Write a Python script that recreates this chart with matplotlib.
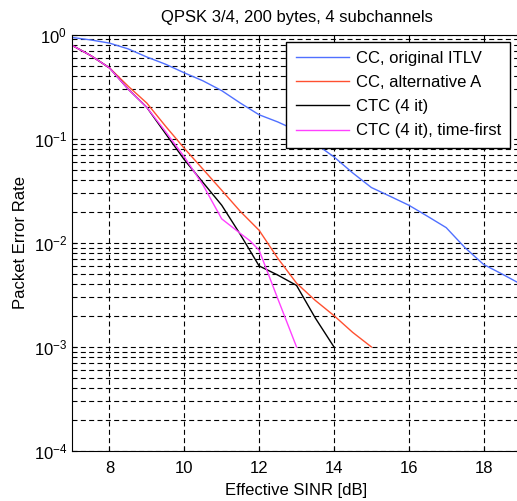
import numpy as np
import matplotlib
matplotlib.use("Agg")
import matplotlib.pyplot as plt

plt.rcParams['font.family'] = ['Liberation Sans', 'DejaVu Sans']

# CC, original ITLV
sinr_cc = [7, 7.5, 8, 8.5, 9, 9.5, 10, 10.5, 11, 11.5, 12, 12.5, 13, 13.5, 14,
           14.5, 15, 15.5, 16, 16.5, 17, 17.5, 18, 18.5, 19]
per_cc = [0.94, 0.89, 0.83, 0.73, 0.61, 0.52, 0.43, 0.36, 0.29, 0.22, 0.17,
          0.145, 0.12, 0.09, 0.067, 0.047, 0.034, 0.028, 0.023, 0.018, 0.014,
          0.009, 0.0062, 0.0050, 0.0040]

# CC, alternative A
sinr_alt = [7, 7.5, 8, 8.5, 9, 9.5, 10, 10.5, 11, 11.5, 12, 12.5, 13, 13.5,
            14, 14.5, 15]
per_alt = [0.79, 0.63, 0.48, 0.32, 0.22, 0.132, 0.081, 0.051, 0.032, 0.020,
           0.0132, 0.0071, 0.0041, 0.0028, 0.0020, 0.00138, 0.001]

# CTC (4 it)
sinr_ctc = [7, 7.5, 8, 8.5, 9, 9.5, 10, 10.5, 11, 11.5, 12, 12.5, 13, 13.5, 14]
per_ctc = [0.79, 0.63, 0.48, 0.30, 0.20, 0.112, 0.063, 0.038, 0.023, 0.012,
           0.0060, 0.0049, 0.0039, 0.0019, 0.001]

# CTC (4 it), time-first
sinr_tf = [7, 7.5, 8, 8.5, 9, 9.5, 10, 10.5, 11, 11.5, 11.75, 12, 12.5, 13]
per_tf = [0.79, 0.63, 0.48, 0.30, 0.20, 0.117, 0.067, 0.036, 0.017, 0.0123,
          0.0105, 0.0085, 0.0029, 0.001]

fs = 12

fig = plt.figure(figsize=(5.17, 5.01), dpi=100)
ax = fig.add_axes([0.1393, 0.0998, 0.8685, 0.831])

ax.semilogy(sinr_cc, per_cc, color='#5070ff', lw=1, label='CC, original ITLV')
ax.semilogy(sinr_alt, per_alt, color='#ff5030', lw=1, label='CC, alternative A')
ax.semilogy(sinr_ctc, per_ctc, color='black', lw=1, label='CTC (4 it)')
ax.semilogy(sinr_tf, per_tf, color='#ff40ff', lw=1, label='CTC (4 it), time-first')

ax.set_xlim(7, 19)
ax.set_ylim(1e-4, 1)
ax.set_xticks([8, 10, 12, 14, 16, 18])
ax.grid(True, which='major', color='black', ls=(0, (4.5, 3)), lw=0.8)
ax.grid(True, which='minor', axis='y', color='black', ls=(0, (4.5, 3)), lw=0.8)
ax.tick_params(which='both', direction='in', top=True, right=True, labelsize=fs)
ax.tick_params(axis='x', pad=7)

ax.set_title('QPSK 3/4, 200 bytes, 4 subchannels', fontsize=fs, pad=9)
ax.set_xlabel('Effective SINR [dB]', fontsize=fs, labelpad=5)
ax.set_ylabel('Packet Error Rate', fontsize=fs, labelpad=4)

leg = ax.legend(loc='upper right', bbox_to_anchor=(0.9755, 0.983), fontsize=fs,
                fancybox=False, framealpha=1, edgecolor='black',
                handlelength=3.2, handletextpad=0.4, borderpad=0.55,
                labelspacing=0.55, borderaxespad=0)
leg.get_frame().set_linewidth(1)

fig.savefig('out.png', dpi=100)
